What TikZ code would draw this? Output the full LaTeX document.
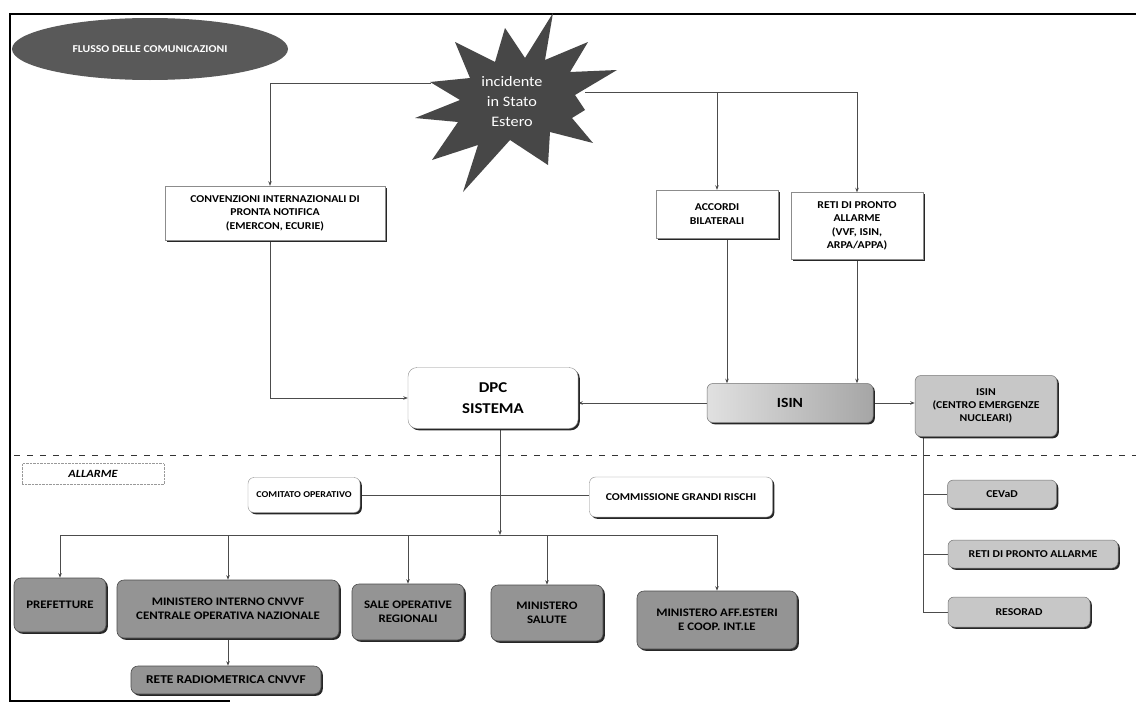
\documentclass[tikz,border=0pt]{standalone}
\usepackage{fontspec}
\setmainfont{Carlito}[FakeStretch=1.12]
\usetikzlibrary{shapes.geometric,shadows,arrows.meta,backgrounds,calc}
\begin{document}
\begin{tikzpicture}[x=1pt,y=-1pt,
  conn/.style={draw=black!70, line width=0.7pt},
  arr/.style={conn, -{Stealth[length=4.5pt,width=3.5pt]}},
  shad/.style={drop shadow={shadow xshift=1.8pt, shadow yshift=-1.8pt, fill=black!85, opacity=1}},
  wbox/.style={shad, draw=black!45, line width=0.4pt, fill=white, align=center, font=\bfseries\fontsize{10.5}{13.5}\selectfont, inner sep=2pt},
  wround/.style={wbox, rounded corners=6pt},
  gbox/.style={shad, rounded corners=6pt, draw=black!55, line width=0.5pt, fill=black!22, align=center, font=\bfseries\fontsize{10.5}{13}\selectfont, inner sep=2pt},
  dbox/.style={shad, rounded corners=7pt, draw=black!70, line width=0.6pt, fill=black!42, align=center, font=\bfseries\fontsize{11.5}{14}\selectfont, inner sep=2pt},
]
\useasboundingbox (0,0) rectangle (1136,704);
% frame
\draw[line width=1.3pt] (1136,14) -- (10,14) -- (10,701) -- (230,701);

% title
\node[ellipse, fill=black!65, minimum width=276pt, minimum height=62pt, text=white,
      font=\bfseries\fontsize{10.5}{12}\selectfont] (title) at (150,49) {FLUSSO DELLE COMUNICAZIONI};

% star
\fill[black!72] (553,13) -- (545,60) -- (588,42) -- (570,72) -- (617,70) -- (575,95)
  -- (585,110) -- (572,118) -- (593,143) -- (550,132) -- (548,165) -- (510,140)
  -- (463,192) -- (478,145) -- (432,160) -- (458,122) -- (415,118) -- (460,100)
  -- (430,82) -- (470,78) -- (455,42) -- (495,62) -- (505,28) -- (525,58) -- cycle;
\node[text=white, align=center, font=\fontsize{14.5}{20}\selectfont] (inc) at (512,102) {incidente\\in Stato\\Estero};
\coordinate (incL) at (431,83);
\coordinate (incR) at (585,92);
\coordinate (jR) at (857,92);

% upper boxes
\node[wbox, minimum width=220pt, minimum height=54pt] (conv) at (275,213)
  {CONVENZIONI INTERNAZIONALI DI\\PRONTA NOTIFICA\\(EMERCON, ECURIE)};
\node[wbox, minimum width=122pt, minimum height=48pt] (acc) at (717,214) {ACCORDI\\BILATERALI};
\node[wbox, minimum width=132pt, minimum height=67pt] (reti) at (857,226)
  {RETI DI PRONTO\\ALLARME\\(VVF, ISIN,\\ARPA/APPA)};

% middle
\node[wround, rounded corners=9pt, minimum width=170pt, minimum height=61pt,
      font=\bfseries\fontsize{15}{21}\selectfont] (dpc) at (493,398) {DPC\\SISTEMA};
\node[gbox, left color=black!12, right color=black!35, minimum width=166pt, minimum height=39pt,
      font=\bfseries\fontsize{14}{16}\selectfont] (isin) at (790,403) {ISIN};
\node[gbox, minimum width=142pt, minimum height=61pt] (cen) at (986,406)
  {ISIN\\(CENTRO EMERGENZE\\NUCLEARI)};

% dashed separator
\draw[black!80, line width=0.9pt, dash pattern=on 6pt off 7pt] (14,455) -- (1136,455);

% alarm zone
\node[draw=black!40, densely dotted, line width=0.4pt, minimum width=142pt, minimum height=21pt,
      font=\bfseries\itshape\fontsize{11}{12}\selectfont] (allarme) at (93,474) {ALLARME};
\node[wround, minimum width=112pt, minimum height=35pt, font=\bfseries\fontsize{9}{11}\selectfont] (comit) at (304,495) {COMITATO OPERATIVO};
\node[wround, minimum width=183pt, minimum height=40pt] (comm) at (681,497) {COMMISSIONE GRANDI RISCHI};

\node[gbox, minimum width=109pt, minimum height=28pt] (cevad) at (1002,494) {CEVaD};
\node[gbox, minimum width=170pt, minimum height=28pt] (reti2) at (1033,554) {RETI DI PRONTO ALLARME};
\node[gbox, minimum width=142pt, minimum height=30pt] (reso) at (1019,612) {RESORAD};

% bottom row
\node[dbox, minimum width=92pt, minimum height=54pt] (pref) at (60,605) {PREFETTURE};
\node[dbox, minimum width=222pt, minimum height=58pt] (minint) at (228,609)
  {MINISTERO INTERNO CNVVF\\CENTRALE OPERATIVA NAZIONALE};
\node[dbox, minimum width=112pt, minimum height=56pt] (sale) at (408,612) {SALE OPERATIVE\\REGIONALI};
\node[dbox, minimum width=112pt, minimum height=56pt] (minsal) at (547,613) {MINISTERO\\SALUTE};
\node[dbox, minimum width=160pt, minimum height=58pt] (minaff) at (717,620) {MINISTERO AFF.ESTERI\\E COOP. INT.LE};
\node[dbox, minimum width=190pt, minimum height=28pt, font=\bfseries\fontsize{12}{13}\selectfont] (rete) at (226,680) {RETE RADIOMETRICA CNVVF};

\coordinate (bus) at (500,535);
\coordinate (cvx) at (923,0);

% connectors
\begin{scope}[on background layer]
\fill[white] (0,0) rectangle (1136,704);
\draw[arr] (incL) -| ([xshift=-5pt]conv.north);
\draw[arr] (incR) -- (jR) -- (reti.north);
\draw[arr] (incR -| acc.north) -- (acc.north);
\draw[arr] ([xshift=-5pt]conv.south) |- (dpc.west);
\draw[arr] ([xshift=10pt]acc.south) -- ([xshift=10pt]acc.south |- isin.north);
\draw[arr] (reti.south) -- (reti.south |- isin.north);
\draw[arr] (isin.west) -- (isin.west -| dpc.east);
\draw[arr] (isin.east) -- (isin.east -| cen.west);
\draw[conn] (cvx |- cen.south) |- (reso.west);
\draw[conn] (cvx |- cevad.west) -- (cevad.west);
\draw[conn] (cvx |- reti2.west) -- (reti2.west);
\draw[conn] (comit.east) -- (comit.east -| comm.west);
\draw[arr] (dpc.south -| bus) -- (bus);
\draw[conn] (pref.north |- bus) -- (minaff.north |- bus);
\draw[arr] (pref.north |- bus) -- (pref.north);
\draw[arr] (minint.north |- bus) -- (minint.north);
\draw[arr] (sale.north |- bus) -- (sale.north);
\draw[arr] (minsal.north |- bus) -- (minsal.north);
\draw[arr] (minaff.north |- bus) -- (minaff.north);
\draw[arr] (minint.south) -- (minint.south |- rete.north);
\end{scope}
\end{tikzpicture}
\end{document}
